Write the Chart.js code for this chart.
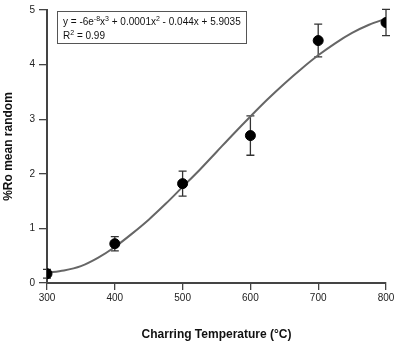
<!DOCTYPE html>
<html>
<head>
<meta charset="utf-8">
<script src="https://cdn.jsdelivr.net/npm/chart.js@4"></script>
<style>
    html, body { margin: 0; padding: 0; background: #fff; }
    #wrap { width: 397px; height: 343px; }
</style>
</head>
<body>
<div id="wrap"><canvas id="roChart" width="397" height="343"></canvas></div>
<script>
// Measured points (charring temperature vs mean random reflectance)
const temps = [300, 400, 500, 600, 700, 800];
const roMean = [0.17, 0.72, 1.82, 2.70, 4.44, 4.77];
const roErr = [0.08, 0.13, 0.23, 0.36, 0.30, 0.24];

// Fitted curve
const fitTemps = [300, 325, 350, 375, 400, 425, 450, 475, 500, 525, 550, 575, 600, 625, 650, 675, 700, 725, 750, 775, 800];
const fitValues = [0.19, 0.23, 0.31, 0.46, 0.66, 0.90, 1.16, 1.45, 1.76, 2.07, 2.40, 2.73, 3.05, 3.36, 3.65, 3.92, 4.17, 4.39, 4.58, 4.73, 4.84];

const xTicks = [300, 400, 500, 600, 700, 800];
const yTicks = [0, 1, 2, 3, 4, 5];

const FONT = '"Liberation Sans", Arial, sans-serif';
const AXIS_COLOR = '#444';

/**
 * Error bars, drawn from the dataset through the chart scales
 */
const errorBarPlugin = {
    id: 'errorBars',
    beforeDatasetsDraw(chart) {
        const { ctx, scales } = chart;
        ctx.save();
        ctx.strokeStyle = '#333';
        ctx.lineWidth = 1.3;
        temps.forEach((t, i) => {
            const x = scales.x.getPixelForValue(t);
            const yTop = scales.y.getPixelForValue(roMean[i] + roErr[i]);
            const yBot = scales.y.getPixelForValue(roMean[i] - roErr[i]);
            ctx.beginPath();
            ctx.moveTo(x, yTop);
            ctx.lineTo(x, yBot);
            ctx.moveTo(x - 4, yTop);
            ctx.lineTo(x + 4, yTop);
            ctx.moveTo(x - 4, yBot);
            ctx.lineTo(x + 4, yBot);
            ctx.stroke();
        });
        ctx.restore();
    }
};

/**
 * Equation box in the top left corner
 */
function drawRuns(ctx, runs, x, y) {
    runs.forEach(run => {
        const sup = run.sup;
        ctx.font = (sup ? '7px ' : '10px ') + FONT;
        ctx.fillText(run.t, x, sup ? y - 4 : y);
        x += ctx.measureText(run.t).width;
    });
}

const equationPlugin = {
    id: 'equationBox',
    afterDraw(chart) {
        const { ctx } = chart;
        ctx.save();
        ctx.fillStyle = '#fff';
        ctx.strokeStyle = '#555';
        ctx.lineWidth = 1;
        ctx.fillRect(57.5, 11.5, 189, 32);
        ctx.strokeRect(57.5, 11.5, 189, 32);
        ctx.fillStyle = '#111';
        ctx.textBaseline = 'alphabetic';
        drawRuns(ctx, [
            { t: 'y = -6e' }, { t: '-8', sup: true }, { t: 'x' }, { t: '3', sup: true },
            { t: ' + 0.0001x' }, { t: '2', sup: true }, { t: ' - 0.044x + 5.9035' }
        ], 63, 24.5);
        drawRuns(ctx, [{ t: 'R' }, { t: '2', sup: true }, { t: ' = 0.99' }], 63, 39);
        ctx.restore();
    }
};

new Chart(document.getElementById('roChart'), {
    type: 'scatter',
    data: {
        datasets: [
            {
                label: 'Ro',
                data: temps.map((t, i) => ({ x: t, y: roMean[i] })),
                backgroundColor: '#000',
                borderColor: '#000',
                pointRadius: 5,
                pointHoverRadius: 5,
                order: 0
            },
            {
                label: 'fit',
                data: fitTemps.map((t, i) => ({ x: t, y: fitValues[i] })),
                showLine: true,
                borderColor: '#666',
                borderWidth: 2,
                pointRadius: 0,
                cubicInterpolationMode: 'monotone',
                order: 1
            }
        ]
    },
    options: {
        responsive: false,
        animation: false,
        layout: { padding: { top: 6, right: 11, left: 0, bottom: 0 } },
        plugins: {
            legend: { display: false },
            tooltip: { enabled: false }
        },
        scales: {
            x: {
                type: 'linear',
                min: 300,
                max: 800,
                afterFit: s => { s.height = 60; },
                afterBuildTicks: s => { s.ticks = xTicks.map(v => ({ value: v })); },
                border: { display: true, color: AXIS_COLOR, width: 2 },
                grid: { drawOnChartArea: false, drawTicks: true, tickLength: 7, color: AXIS_COLOR, lineWidth: 1.3 },
                ticks: { color: '#222', font: { family: FONT, size: 10 }, padding: 2, maxRotation: 0 },
                title: {
                    display: true,
                    text: 'Charring Temperature (°C)',
                    color: '#111',
                    font: { family: FONT, size: 12, weight: 'bold' },
                    padding: { top: 0, bottom: 1 }
                }
            },
            y: {
                type: 'linear',
                min: 0,
                max: 5,
                afterFit: s => { s.width = 47; },
                afterBuildTicks: s => { s.ticks = yTicks.map(v => ({ value: v })); },
                border: { display: true, color: AXIS_COLOR, width: 2 },
                grid: { drawOnChartArea: false, drawTicks: true, tickLength: 8, color: AXIS_COLOR, lineWidth: 1.3 },
                ticks: { color: '#222', font: { family: FONT, size: 10 }, padding: 4 },
                title: {
                    display: true,
                    text: '%Ro mean random',
                    color: '#111',
                    font: { family: FONT, size: 12, weight: 'bold' },
                    padding: { top: 1, bottom: 0 }
                }
            }
        }
    },
    plugins: [errorBarPlugin, equationPlugin]
});
</script>
</body>
</html>
